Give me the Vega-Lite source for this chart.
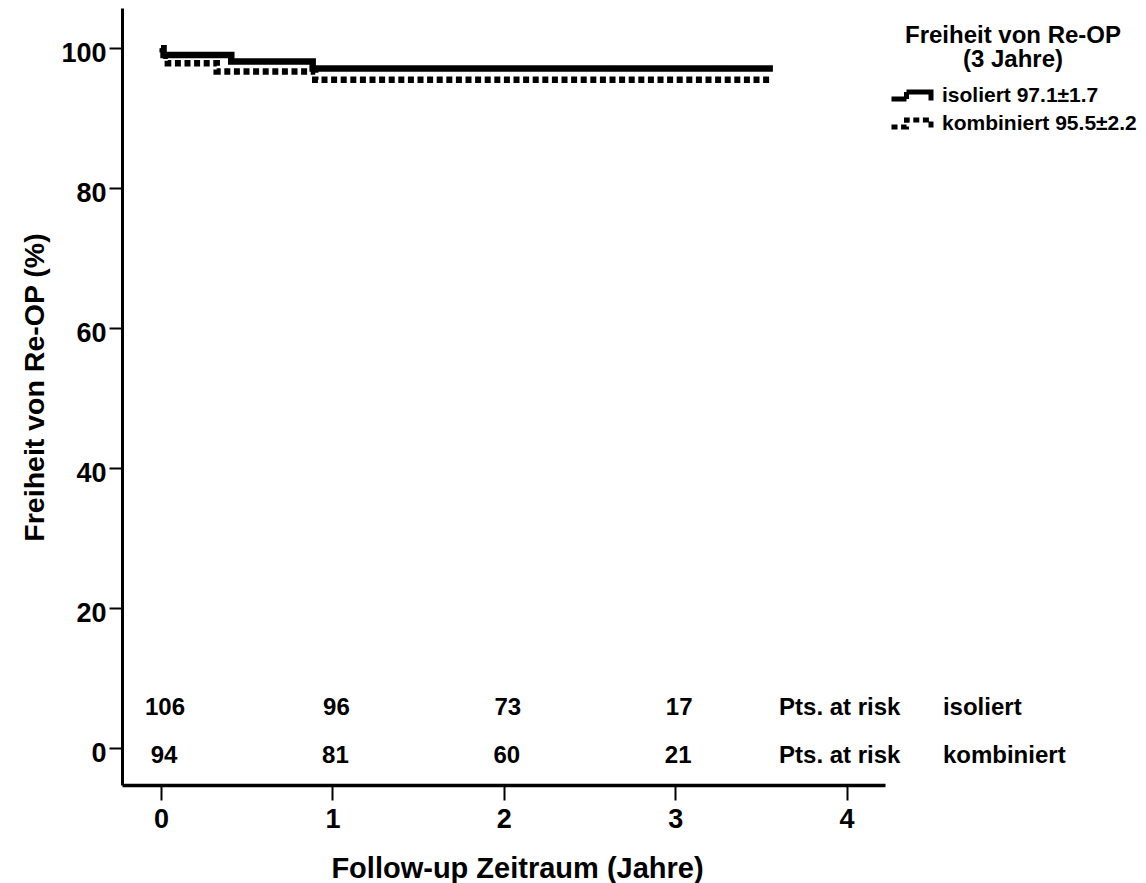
{
  "$schema": "https://vega.github.io/schema/vega-lite/v6.json",
  "width": 763,
  "height": 777,
  "autosize": "none",
  "padding": {"left": 122, "top": 8, "right": 261, "bottom": 98},
  "background": "white",
  "config": {
    "view": {"stroke": null},
    "font": "Liberation Sans",
    "text": {"font": "Liberation Sans", "color": "black"}
  },
  "datasets": {
    "km": [
      {"gruppe": "isoliert", "t": 0, "s": 100},
      {"gruppe": "isoliert", "t": 0.015, "s": 99.06},
      {"gruppe": "isoliert", "t": 0.41, "s": 98.11},
      {"gruppe": "isoliert", "t": 0.885, "s": 97.1},
      {"gruppe": "isoliert", "t": 3.57, "s": 97.1},
      {"gruppe": "kombiniert", "t": 0, "s": 100},
      {"gruppe": "kombiniert", "t": 0.01, "s": 98.94},
      {"gruppe": "kombiniert", "t": 0.04, "s": 97.87},
      {"gruppe": "kombiniert", "t": 0.325, "s": 96.7},
      {"gruppe": "kombiniert", "t": 0.9, "s": 95.5},
      {"gruppe": "kombiniert", "t": 3.563, "s": 95.5}
    ],
    "risk": [
      {"gruppe": "isoliert", "t": 0, "n": 106},
      {"gruppe": "isoliert", "t": 1, "n": 96},
      {"gruppe": "isoliert", "t": 2, "n": 73},
      {"gruppe": "isoliert", "t": 3, "n": 17},
      {"gruppe": "kombiniert", "t": 0, "n": 94},
      {"gruppe": "kombiniert", "t": 1, "n": 81},
      {"gruppe": "kombiniert", "t": 2, "n": 60},
      {"gruppe": "kombiniert", "t": 3, "n": 21}
    ]
  },
  "layer": [
    {
      "data": {"name": "km"},
      "mark": {"type": "line", "interpolate": "step-after", "strokeWidth": 6.5, "color": "black", "clip": false},
      "encoding": {
        "x": {
          "field": "t", "type": "quantitative",
          "scale": {"domain": [-0.2275, 4.224], "nice": false, "zero": false},
          "axis": {
            "values": [0, 1, 2, 3, 4], "format": "d", "grid": false,
            "domainColor": "black", "domainWidth": 3.5,
            "tickColor": "black", "tickWidth": 2, "tickSize": 15,
            "labelFont": "Liberation Sans", "labelFontSize": 27, "labelFontWeight": "bold", "labelColor": "black", "labelPadding": 6,
            "title": "Follow-up Zeitraum (Jahre)",
            "titleFont": "Liberation Sans", "titleFontSize": 29, "titleFontWeight": "bold", "titleColor": "black",
            "titleX": 395, "titleY": 92, "titleBaseline": "alphabetic", "titleAlign": "center"
          }
        },
        "y": {
          "field": "s", "type": "quantitative",
          "scale": {"domain": [-5.286, 105.76], "nice": false, "zero": false},
          "axis": {
            "values": [0, 20, 40, 60, 80, 100], "format": "d", "grid": false,
            "domainColor": "black", "domainWidth": 3,
            "tickColor": "black", "tickWidth": 2, "tickSize": 13,
            "labelFont": "Liberation Sans", "labelFontSize": 27, "labelFontWeight": "bold", "labelColor": "black", "labelPadding": 3, "labelOffset": 5,
            "title": "Freiheit von Re-OP (%)",
            "titleFont": "Liberation Sans", "titleFontSize": 28.5, "titleFontWeight": "bold", "titleColor": "black",
            "titleAngle": 270, "titleX": -79, "titleY": 379, "titleBaseline": "alphabetic", "titleAlign": "center"
          }
        },
        "strokeDash": {
          "field": "gruppe", "type": "nominal",
          "scale": {"domain": ["isoliert", "kombiniert"], "range": [[1, 0], [6, 3.6]]},
          "legend": {
            "orient": "none", "legendX": 767, "legendY": 16, "padding": 0,
            "title": ["Freiheit von Re-OP", "(3 Jahre)"],
            "titleFont": "Liberation Sans", "titleFontSize": 24, "titleFontWeight": "bold", "titleColor": "black",
            "titleAnchor": "middle", "titleAlign": "center", "titleLineHeight": 24, "titlePadding": 11, "titleLimit": 400,
            "symbolType": "M-1,0.35H0.5V-0.35H2.95V0.5",
            "symbolSize": 400, "symbolStrokeWidth": 5, "symbolStrokeColor": "black", "symbolFillColor": "transparent",
            "labelFont": "Liberation Sans", "labelFontSize": 21, "labelFontWeight": "bold", "labelColor": "black",
            "labelExpr": "datum.label == 'isoliert' ? 'isoliert 97.1±1.7' : 'kombiniert 95.5±2.2'",
            "labelOffset": 28, "labelLimit": 400, "rowPadding": -2.5
          }
        }
      }
    },
    {
      "data": {"name": "risk"},
      "transform": [{"filter": "datum.gruppe == 'isoliert'"}],
      "mark": {"type": "text", "fontSize": 24, "fontWeight": "bold", "align": "center", "baseline": "alphabetic", "dx": 4},
      "encoding": {
        "x": {"field": "t", "type": "quantitative"},
        "y": {"datum": 4.714},
        "text": {"field": "n", "type": "quantitative"}
      }
    },
    {
      "data": {"name": "risk"},
      "transform": [{"filter": "datum.gruppe == 'kombiniert'"}],
      "mark": {"type": "text", "fontSize": 24, "fontWeight": "bold", "align": "center", "baseline": "alphabetic", "dx": 3},
      "encoding": {
        "x": {"field": "t", "type": "quantitative"},
        "y": {"datum": -2.14},
        "text": {"field": "n", "type": "quantitative"}
      }
    },
    {
      "data": {"values": [{"zeile": "isoliert"}]},
      "mark": {"type": "text", "fontSize": 24, "fontWeight": "bold", "align": "left", "baseline": "alphabetic", "text": "Pts. at risk"},
      "encoding": {"x": {"datum": 3.606}, "y": {"datum": 4.714}}
    },
    {
      "data": {"values": [{"zeile": "kombiniert"}]},
      "mark": {"type": "text", "fontSize": 24, "fontWeight": "bold", "align": "left", "baseline": "alphabetic", "text": "Pts. at risk"},
      "encoding": {"x": {"datum": 3.606}, "y": {"datum": -2.14}}
    },
    {
      "data": {"values": [{"zeile": "isoliert"}]},
      "mark": {"type": "text", "fontSize": 24, "fontWeight": "bold", "align": "left", "baseline": "alphabetic", "text": "isoliert"},
      "encoding": {"x": {"datum": 4.562}, "y": {"datum": 4.714}}
    },
    {
      "data": {"values": [{"zeile": "kombiniert"}]},
      "mark": {"type": "text", "fontSize": 24, "fontWeight": "bold", "align": "left", "baseline": "alphabetic", "text": "kombiniert"},
      "encoding": {"x": {"datum": 4.562}, "y": {"datum": -2.14}}
    }
  ]
}
